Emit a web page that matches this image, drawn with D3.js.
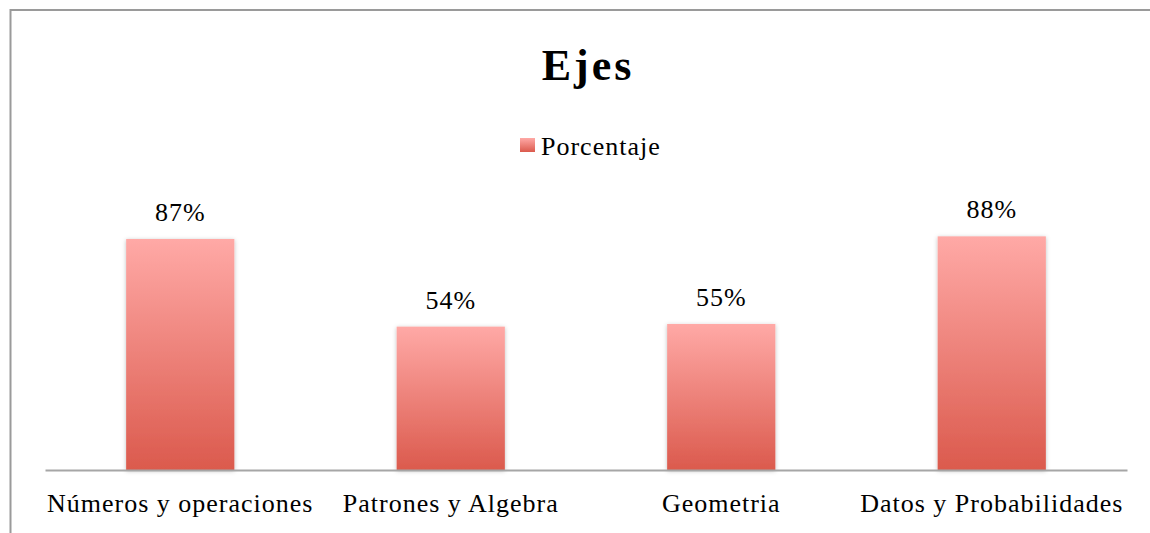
<!DOCTYPE html>
<html><head><meta charset="utf-8">
<script src="https://cdn.jsdelivr.net/npm/d3@7"></script>
<style>body{margin:0;background:#fff}svg{display:block}</style>
</head><body>
<script>
const categories = ["Números y operaciones","Patrones y Algebra","Geometria","Datos y Probabilidades"];
const values = [0.87, 0.54, 0.55, 0.88];
const valueLabels = ["87%","54%","55%","88%"];
const seriesName = "Porcentaje";
const title = "Ejes";

const W = 1150, H = 533;
const font = "'Liberation Serif', 'DejaVu Serif', serif";
const svg = d3.select("body").append("svg").attr("width", W).attr("height", H);
const defs = svg.append("defs");
const g = defs.append("linearGradient").attr("id","barGrad").attr("x1",0).attr("y1",0).attr("x2",0).attr("y2",1);
g.append("stop").attr("offset","0%").attr("stop-color","#ffa9a6");
g.append("stop").attr("offset","100%").attr("stop-color","#db5a4d");
const f = defs.append("filter").attr("id","shadow").attr("x","-20%").attr("y","-10%").attr("width","140%").attr("height","120%");
f.append("feDropShadow").attr("dx",0).attr("dy",1).attr("stdDeviation",2).attr("flood-color","#000").attr("flood-opacity",0.25);

svg.append("rect").attr("x",10.5).attr("y",10).attr("width",1160).attr("height",540)
  .attr("fill","none").attr("stroke","#9a9a9a").attr("stroke-width",2);

const x = d3.scaleBand().domain(categories).range([45,1127]).paddingInner(0.6).paddingOuter(0.3);
const y = d3.scaleLinear().domain([0,1]).range([470,204.5]);

svg.append("text").attr("x",588).attr("y",80).attr("text-anchor","middle")
  .attr("font-family",font).attr("font-weight","bold").attr("font-size",44)
  .attr("letter-spacing",3).attr("fill","#000").text(title);

// legend
svg.append("rect").attr("x",520).attr("y",138).attr("width",15).attr("height",14).attr("fill","url(#barGrad)");
svg.append("text").attr("x",541).attr("y",155).attr("font-family",font).attr("font-size",26)
  .attr("letter-spacing",1).attr("fill","#000").text(seriesName);

svg.append("g").selectAll("rect").data(values).join("rect")
  .attr("x",(d,i)=>x(categories[i])).attr("width",x.bandwidth())
  .attr("y",d=>y(d)).attr("height",d=>y(0)-y(d))
  .attr("fill","url(#barGrad)").attr("filter","url(#shadow)");

svg.append("g").selectAll("text").data(values).join("text")
  .attr("x",(d,i)=>x(categories[i])+x.bandwidth()/2).attr("y",d=>y(d)-18)
  .attr("text-anchor","middle").attr("font-family",font).attr("font-size",26)
  .attr("letter-spacing",1).attr("fill","#000")
  .text((d,i)=>valueLabels[i]);

const axis = svg.append("g").attr("transform",`translate(0,${y(0)})`)
  .call(d3.axisBottom(x).tickSize(0).tickPadding(24));
axis.select(".domain").attr("stroke","#a6a6a6").attr("stroke-width",2);
axis.selectAll("text").attr("font-family",font).attr("font-size",26)
  .attr("letter-spacing",1).attr("fill","#000");
</script>
</body></html>
